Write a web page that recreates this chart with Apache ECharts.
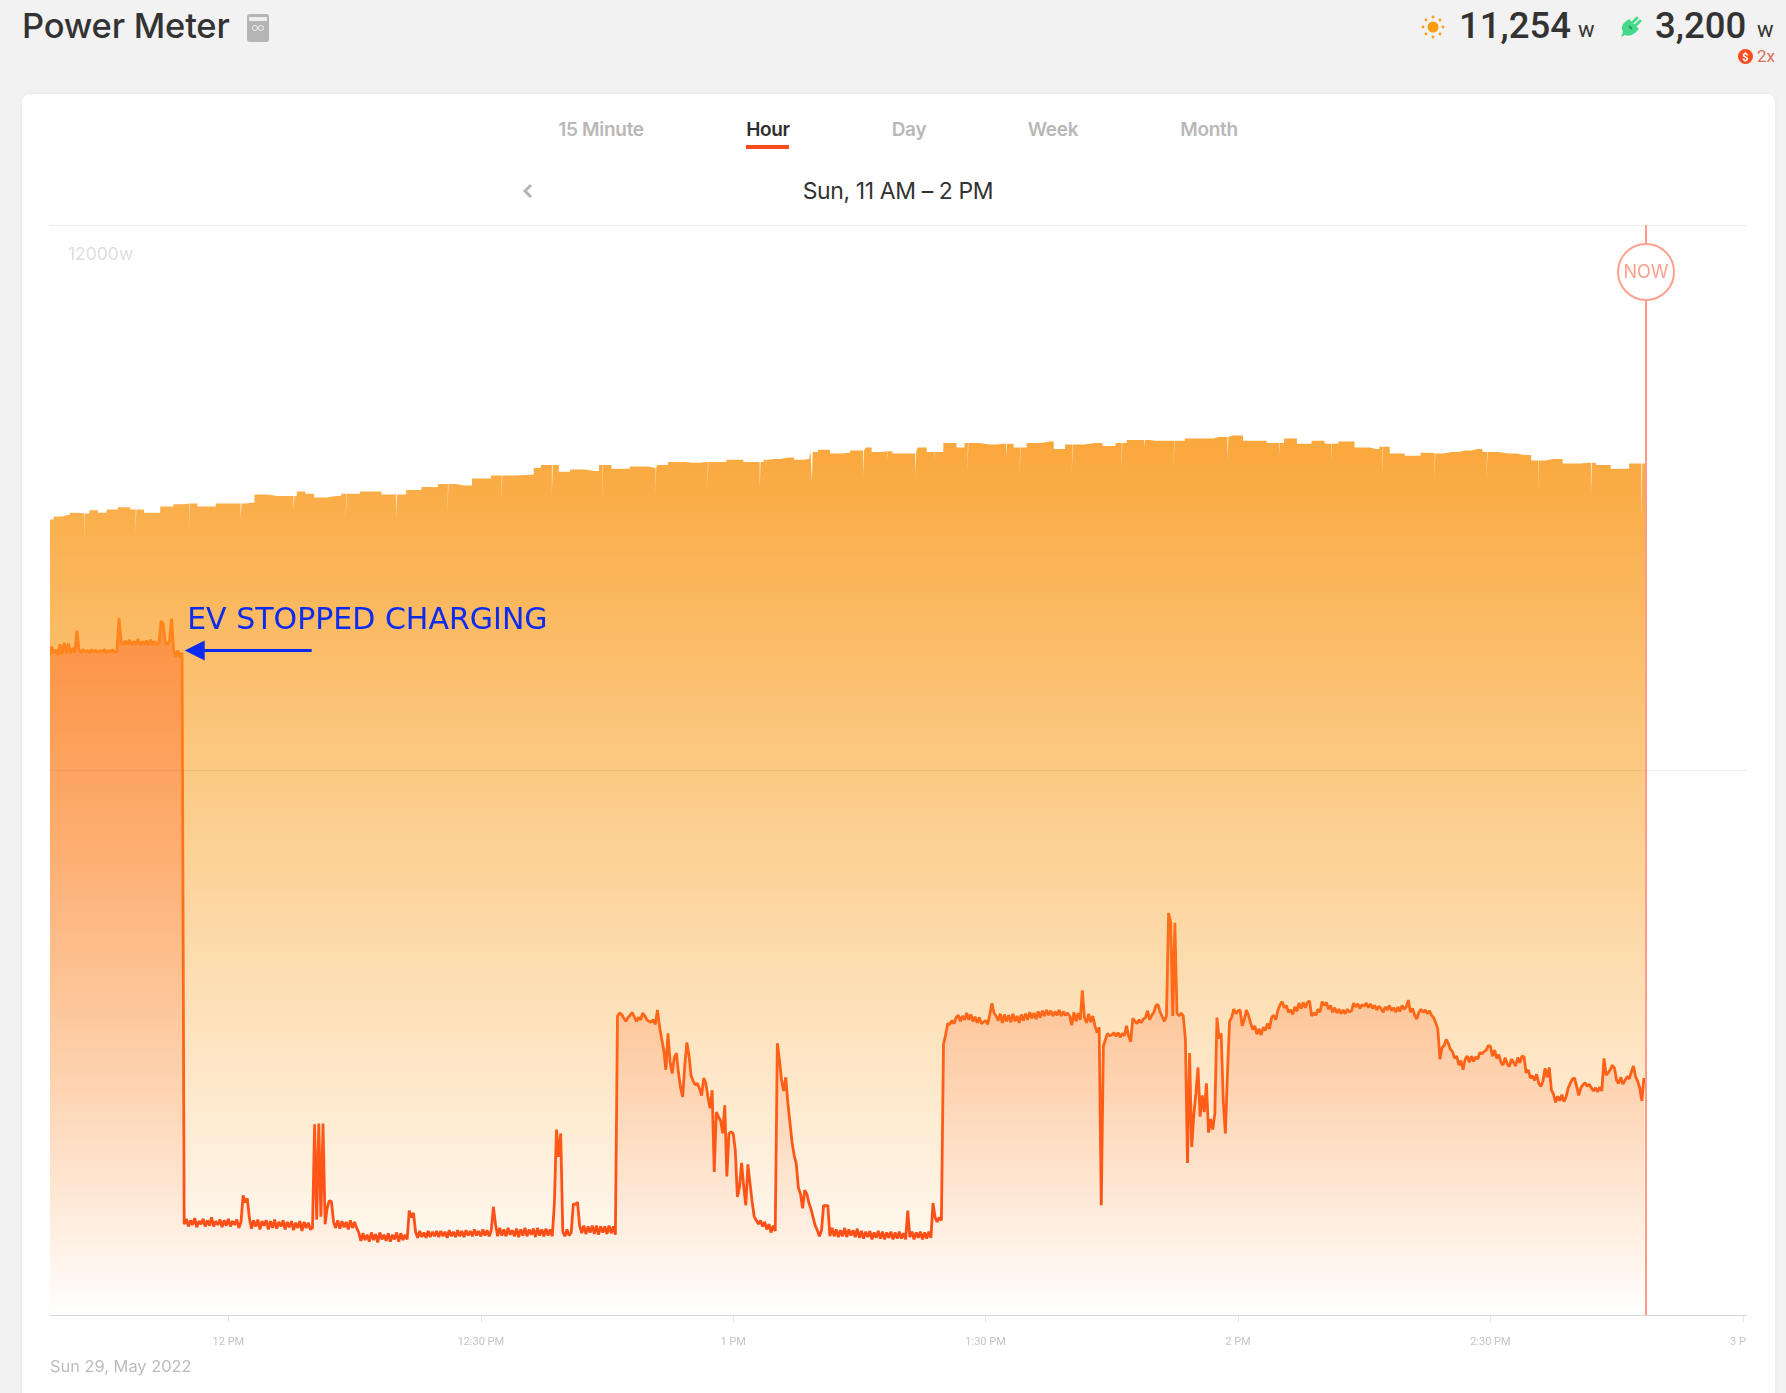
<!DOCTYPE html>
<html>
<head>
<meta charset="utf-8">
<title>Power Meter</title>
<script src="https://cdn.jsdelivr.net/npm/echarts@6/dist/echarts.min.js"></script>
<style>
	html, body { margin: 0; padding: 0; background: #f2f2f2; width: 1786px; height: 1393px; overflow: hidden; font-family: Inter, sans-serif; color: #333; }
	.abs { position: absolute; white-space: nowrap; }
	#card { position: absolute; left: 22px; top: 94px; width: 1753px; height: 1320px; background: #fff; border-radius: 8px; box-shadow: 0 0 4px rgba(0,0,0,.05); }
	#dom { position: absolute; left: 50px; top: 200px; width: 1697px; height: 1193px; }
	.tab { top: 118px; font-size: 19px; font-weight: 600; color: #b8b8b8; transform: translateX(-50%); letter-spacing: -0.3px; }
</style>
</head>
<body>
	<div id="card"></div>
	<div class="abs" style="left:22px;top:5px;font-size:34.5px;font-weight:500;letter-spacing:-0.2px;">Power Meter</div>
	<svg class="abs" style="left:247px;top:14px" width="22" height="28" viewBox="0 0 22 28">
		<rect width="22" height="28" rx="3" fill="#b5b5b5"/>
		<rect x="2" y="3" width="18" height="4" rx="1" fill="#eee"/>
		<circle cx="8" cy="14" r="2.5" fill="none" stroke="#eee" stroke-width="1"/>
		<circle cx="14" cy="14" r="2.5" fill="none" stroke="#eee" stroke-width="1"/>
	</svg>

	<svg class="abs" style="left:1421px;top:15px" width="24" height="24" viewBox="-12 -12 24 24">
		<circle r="5.5" fill="#fb9d0e"/>
		<g fill="#fb9d0e">
			<circle cx="0" cy="-10" r="1.4"/><circle cx="0" cy="10" r="1.4"/><circle cx="-10" cy="0" r="1.4"/><circle cx="10" cy="0" r="1.4"/>
			<circle cx="-7" cy="-7" r="1.4"/><circle cx="7" cy="-7" r="1.4"/><circle cx="-7" cy="7" r="1.4"/><circle cx="7" cy="7" r="1.4"/>
		</g>
	</svg>
	<div class="abs" style="left:1459px;top:4px;font-family:Roboto;font-size:36.5px;font-weight:500;">11,254</div>
	<div class="abs" style="left:1578px;top:17px;font-family:Roboto;font-size:22px;">w</div>
	<svg class="abs" style="left:1620px;top:16px" width="22" height="22" viewBox="0 0 22 22">
		<path d="M1 21 L3 16 Q0 10 5 6 L9 3 L19 13 L15 17 Q10 21 5 19 Z" fill="#46d98a"/>
		<path d="M13 6 L17 2 M16 9 L20 5" stroke="#46d98a" stroke-width="3" stroke-linecap="round"/>
		<path d="M9 10 L12 13" stroke="#2b9a63" stroke-width="2"/>
	</svg>
	<div class="abs" style="left:1655px;top:4px;font-family:Roboto;font-size:36.5px;font-weight:500;">3,200</div>
	<div class="abs" style="left:1757px;top:17px;font-family:Roboto;font-size:22px;">w</div>
	<svg class="abs" style="left:1738px;top:49px" width="15" height="15" viewBox="0 0 15 15">
		<circle cx="7.5" cy="7.5" r="7.5" fill="#fb4b1c"/>
		<text x="7.5" y="11.5" font-size="11" font-weight="700" text-anchor="middle" fill="#fff" font-family="Roboto">$</text>
	</svg>
	<div class="abs" style="left:1757px;top:46px;font-family:Roboto;font-size:17px;color:#e0705a;">2x</div>

	<div class="abs tab" style="left:601px">15 Minute</div>
	<div class="abs tab" style="left:768px;color:#2e2e2e">Hour</div>
	<div class="abs tab" style="left:909px">Day</div>
	<div class="abs tab" style="left:1053px">Week</div>
	<div class="abs tab" style="left:1209px">Month</div>
	<div class="abs" style="left:746px;top:145px;width:43px;height:4px;background:#fb4b1c"></div>
	<svg class="abs" style="left:522px;top:183px" width="12" height="16" viewBox="0 0 12 16">
		<polyline points="9,2 3,8 9,14" fill="none" stroke="#b5b5b5" stroke-width="3"/>
	</svg>
	<div class="abs" style="left:898px;top:177px;transform:translateX(-50%);font-size:23px;letter-spacing:-0.4px;">Sun, 11 AM – 2 PM</div>

	<div id="dom"></div>
	<div class="abs" style="left:68px;top:243px;font-size:17.5px;color:#dedede;">12000w</div>
	<div class="abs" style="left:50px;top:1356px;font-size:16.4px;color:#bcbcbc;">Sun 29, May 2022</div>

<script>
	// time is minutes after 12 PM, power is watts
	var axisMin = -21.2
	var axisMax = 180.5
	var powerMax = 14400
	var nowMinute = 168.5
	var nowBadgeWatts = 13780

	var tickMinutes = [0, 30, 60, 90, 120, 150, 180]
	var tickLabels = ['12 PM', '12:30 PM', '1 PM', '1:30 PM', '2 PM', '2:30 PM', '3 PM']

	var solarTimes = [
		-21.2, -20.3, -19.2, -18.5, -17.1, -16, -15, -14, -12.3, -11, -9.1, -7.1, -6, -4.6, -2.8, -0.2,
		2.6, 3.6, 5.8, 8.4, 9.9, 10.5, 12.8, 14, 17.2, 19.2, 22.2, 23.7, 26.1, 28, 29.9, 32.5,
		35.8, 36.8, 37.5, 40, 41.2, 43.6, 44.5, 46.5, 48.9, 50.8, 51.1, 53.4, 55.1, 57, 58.4, 60,
		62.4, 64, 64.7, 66.5, 68, 69, 69.4, 70.7, 72.3, 73.6, 74.2, 76, 76.9, 78.3, 79.5, 80.6, 81.8, 82.1,
		83.9, 86, 87.1, 87.9, 90.5, 92.1, 94.1, 95.6, 97.6, 98.6, 100.3, 103.1, 104.7, 106.2, 107.3, 110.1,
		112.4, 114.9, 116.4, 117.7, 119.3, 121.9, 124.9, 126, 128, 129.5, 131.1, 132.7, 135, 136.4, 137.2, 138.8,
		140.8, 142.6, 143.4, 145.4, 147, 148.5, 149.6, 152.2, 154, 155.7, 157.4, 159.8, 161.6, 163, 165.6, 167.4, 168.4
	]
	var solarWatts = [
		10510, 10550, 10570, 10600, 10590, 10630, 10600, 10640, 10670, 10640, 10600, 10680, 10710, 10720, 10680, 10720,
		10730, 10840, 10820, 10880, 10850, 10800, 10820, 10850, 10880, 10840, 10900, 10940, 10980, 10960, 11050, 11090,
		11100, 11190, 11230, 11140, 11170, 11150, 11230, 11180, 11210, 11190, 11230, 11270, 11260, 11270, 11270, 11300,
		11270, 11300, 11310, 11330, 11300, 11310, 11400, 11430, 11380, 11390, 11420, 11460, 11400, 11410, 11380, 11380, 11420, 11460,
		11400, 11520, 11460, 11520, 11500, 11510, 11460, 11520, 11540, 11440, 11500, 11520, 11480, 11520, 11560, 11550,
		11550, 11580, 11580, 11600, 11620, 11550, 11520, 11580, 11510, 11550, 11510, 11540, 11460, 11440, 11470, 11380,
		11350, 11390, 11380, 11400, 11420, 11440, 11400, 11380, 11360, 11290, 11310, 11250, 11260, 11230, 11180, 11250, 11250
	]
	// the short dips in the solar curve
	var dipTimes = [
		-17.1, -11, -4.6, 1.5, 7.8, 14, 20, 26.1, 32.5, 38.5, 44.5, 50.8, 57, 63.2, 64, 69.4, 75.5, 78.3,
		81.7, 83.9, 87.9, 92.5, 94.1, 100.3, 106.2, 108.9, 112.4, 118.8, 124.9, 131.1, 137.2, 143.4, 149.6, 155.7, 162, 168
	]
	var dipWatts = [
		10260, 10320, 10400, 10520, 10650, 10510, 10520, 10610, 10750, 10840, 10810, 10860, 10920, 10930, 11250, 11010, 11090, 11270,
		11090, 11310, 11150, 11340, 11130, 11140, 11180, 11470, 11230, 11290, 11330, 11290, 11100, 11060, 11040, 10920, 10850, 10520
	]

	var usageStart = -21.25
	var usageStep = 0.25
	var usageWatts = [
		// 11:38:45
		8710,8830,8740,8790,8720,
		// 11:40
		8860,8730,8880,8740,8870,8740,8810,8750,9040,8790,8750,8790,8760,8780,8750,8790,8760,8780,8750,8780,
		// 11:45
		8760,8790,8750,8780,8760,8790,8750,8770,9210,8900,8850,8910,8860,8920,8850,8900,8860,8930,8850,8900,
		// 11:50
		8860,8910,8850,8920,8860,8900,8850,8880,9170,9130,8890,8860,8900,9200,8780,8700,8780,8690,8750,1200,
		// 11:55
		1270,1170,1250,1190,1280,1160,1240,1200,1270,1170,1250,1180,1290,1170,1240,1190,1260,1160,1250,1180,
		// 12:00
		1270,1170,1240,1190,1260,1150,1230,1580,1490,1540,1280,1140,1250,1170,1260,1130,1240,1180,1250,1130,
		// 12:05
		1240,1150,1260,1140,1230,1170,1250,1130,1230,1160,1240,1120,1220,1150,1240,1110,1230,1150,1220,1130,
		// 12:10
		1150,2520,1260,2530,1300,2530,1200,1420,1510,1500,1230,1150,1250,1140,1240,1160,1230,1130,1250,1150,
		// 12:15
		1230,1150,1090,980,1080,990,1060,970,1090,990,1070,960,1090,1000,1060,980,1080,970,1060,1000,
		// 12:20
		1090,970,1080,990,1060,1000,1380,1290,1350,1100,1020,1110,1030,1090,1020,1110,1030,1100,1040,1110,
		// 12:25
		1030,1110,1040,1100,1020,1120,1040,1100,1030,1120,1040,1110,1030,1120,1050,1110,1040,1130,1050,1110,
		// 12:30
		1040,1130,1050,1120,1040,1120,1430,1200,1040,1150,1050,1130,1040,1150,1060,1120,1040,1140,1030,1130,
		// 12:35
		1050,1150,1040,1130,1060,1140,1030,1150,1050,1130,1040,1140,1050,1130,1040,1480,2450,2090,2400,1100,
		// 12:40
		1040,1130,1050,1090,1470,1460,1490,1180,1080,1180,1070,1170,1090,1180,1070,1180,1060,1170,1090,1170,
		// 12:45
		1070,1180,1080,1170,1060,3950,3990,3970,3920,3880,3930,3960,4000,3940,3880,3930,3900,3990,3950,3900,
		// 12:50
		3880,3870,3900,3840,4030,3810,3650,3500,3240,3720,3350,3190,3400,3460,3200,3000,2880,3300,3600,3430,
		// 12:55
		3160,3090,3040,3060,2990,2900,3130,3060,2880,2730,2970,1890,2680,2620,2570,2400,2770,1830,2400,2420,
		// 1:00
		2400,2180,1560,1690,2010,1700,1450,1990,1740,1500,1300,1250,1200,1250,1170,1230,1130,1200,1090,1180,
		// 1:05
		1110,3590,3370,3100,2960,3140,2800,2540,2280,2110,2000,1680,1600,1410,1650,1600,1480,1400,1290,1180,
		// 1:10
		1120,1040,1120,1450,1440,1450,1040,1150,1040,1130,1030,1120,1040,1150,1030,1130,1050,1120,1030,1140,
		// 1:15
		1020,1110,1010,1100,1030,1110,1000,1090,1020,1110,1010,1100,1000,1090,1020,1100,1000,1090,1010,1100,
		// 1:20
		1010,1080,1000,1380,1030,1100,1000,1090,1020,1100,1000,1090,1010,1100,1020,1480,1290,1230,1290,1250,
		// 1:25
		3580,3700,3850,3840,3890,3850,3930,3960,3880,3950,3900,3990,3900,3970,3880,3940,3860,3930,3850,3870,
		// 1:30
		3890,3840,3970,4120,3990,3950,3890,3980,3860,3970,3880,3960,3870,3980,3880,3950,3860,3970,3890,3980,
		// 1:35
		3900,4000,3920,3990,3910,4010,3930,4020,3950,4030,3960,4020,3950,4010,3960,4030,3950,4010,3960,3990,
		// 1:40
		3950,3830,4000,3880,3990,3900,4290,3930,3860,3980,3870,3950,3820,3730,3800,1450,3550,3640,3720,3690,
		// 1:45
		3700,3730,3680,3730,3670,3720,3690,3820,3690,3610,3920,3880,3850,3900,3860,3910,3930,4020,3900,3960,
		// 1:50
		4000,4090,4100,4000,3940,3880,3950,5310,5190,3950,5180,3990,3950,3990,3950,3640,2010,3460,2220,2650,
		// 1:55
		2930,3270,2620,2900,2680,3060,2410,2590,2450,2660,3930,3650,3720,2830,2400,3190,3880,3930,4040,3980,
		// 2:00
		4020,4030,3820,3900,4030,3960,3860,3770,3820,3710,3780,3700,3800,3760,3850,3780,3930,3960,3900,4030,
		// 2:05
		4100,4140,4060,4090,4000,4030,3970,4070,4010,4120,4050,4130,4060,4130,4150,3950,3990,3960,4040,4000,
		// 2:10
		4140,4090,4130,4040,4090,4000,4060,3990,4040,3980,4030,3980,4040,4000,4020,4120,4070,4110,4050,4100,
		// 2:15
		4080,4120,4060,4110,4050,4090,4030,4080,4050,4000,4070,4030,4090,4020,4060,4000,4070,4010,4090,4040,
		// 2:20
		4070,4160,4000,4050,3960,3910,4000,4040,4000,4030,3980,4020,3960,3930,3860,3780,3380,3530,3560,3640,
		// 2:25
		3590,3510,3480,3390,3420,3300,3360,3240,3380,3420,3340,3420,3350,3410,3380,3470,3450,3480,3500,3560,
		// 2:30
		3550,3420,3500,3390,3440,3340,3300,3400,3320,3280,3380,3340,3290,3400,3330,3420,3410,3200,3240,3130,
		// 2:35
		3160,3100,3180,3060,3020,3090,3260,3140,3270,2970,2920,2810,2890,2830,2910,2820,2880,3000,3060,3120,
		// 2:40
		3130,3020,2900,3000,3040,3070,3020,3050,3000,2960,3000,2950,3010,2960,3390,3170,3200,3240,3300,3260,
		// 2:45
		3100,3060,3140,3050,3100,3150,3120,3210,3290,3150,3090,3000,2830,3130
	]

	var noteText = 'EV STOPPED CHARGING'
	var noteMinute = -4.9
	var noteWatts = 9160
	var arrowTipMinute = -4
	var arrowTailMinute = 9.9
	var arrowWatts = 8780

	// the dips are put into the solar curve as narrow notches
	var solarData = []
	var dipIndex = 0
	for (var i = 0; i < solarTimes.length; i++) {
		while (dipIndex < dipTimes.length && dipTimes[dipIndex] < solarTimes[i]) {
			var edge = solarWatts[Math.max(i - 1, 0)]
			var dipAt = dipTimes[dipIndex]
			solarData.push([dipAt - 0.05, edge], [dipAt - 0.04, dipWatts[dipIndex]], [dipAt + 0.05, dipWatts[dipIndex]], [dipAt + 0.06, edge])
			dipIndex++
		}
		solarData.push([solarTimes[i], solarWatts[i]])
	}
	var usageData = usageWatts.map(function (w, n) {
		return [usageStart + n * usageStep, w]
	})

	var chart = echarts.init(document.getElementById('dom'))
	chart.setOption({
		animation: false,
		grid: { left: 0, right: 0, top: 25, bottom: 78, outerBoundsMode: 'none' },
		xAxis: {
			type: 'value',
			min: axisMin,
			max: axisMax,
			splitLine: { show: false },
			axisLine: { show: true, lineStyle: { color: '#e6e6e6', width: 1 } },
			axisTick: { show: true, length: 8, customValues: tickMinutes, lineStyle: { color: '#e6e6e6' } },
			axisLabel: {
				customValues: tickMinutes,
				margin: 22,
				color: '#c4c4c4',
				fontFamily: 'Roboto',
				fontSize: 11,
				formatter: function (v) {
					return tickLabels[tickMinutes.indexOf(v)]
				}
			}
		},
		yAxis: {
			type: 'value',
			min: 0,
			max: powerMax,
			interval: powerMax / 2,
			z: 3,
			axisLine: { show: false },
			axisTick: { show: false },
			axisLabel: { show: false },
			splitLine: { lineStyle: { color: 'rgba(120,100,80,0.12)', width: 1 } }
		},
		series: [{
			name: 'Solar',
			type: 'line',
			step: 'middle',
			z: 1,
			data: solarData,
			showSymbol: false,
			lineStyle: { width: 0 },
			areaStyle: {
				opacity: 1,
				color: new echarts.graphic.LinearGradient(0, 0, 0, 1, [
					{ offset: 0, color: '#faa73b' },
					{ offset: 0.4, color: '#fccb87' },
					{ offset: 1, color: '#ffffff' }
				])
			}
		}, {
			name: 'Usage',
			type: 'line',
			z: 2,
			data: usageData,
			showSymbol: false,
			lineStyle: {
				width: 2.8,
				join: 'bevel',
				color: new echarts.graphic.LinearGradient(0, 0, 0, 1, [
					{ offset: 0, color: '#ff861c' },
					{ offset: 0.6, color: '#ff6a18' },
					{ offset: 1, color: '#fe4d17' }
				])
			},
			areaStyle: {
				opacity: 1,
				color: new echarts.graphic.LinearGradient(0, 0, 0, 1, [
					{ offset: 0, color: 'rgba(254,90,23,0.42)' },
					{ offset: 1, color: 'rgba(254,79,23,0)' }
				])
			},
			markLine: {
				silent: true,
				animation: false,
				label: { show: false },
				data: [
					[{ coord: [nowMinute, 0], symbol: 'none', lineStyle: { color: '#fe9a85', width: 2, type: 'solid' } },
						{ coord: [nowMinute, powerMax], symbol: 'none' }],
					[{ coord: [arrowTailMinute, arrowWatts], symbol: 'none', lineStyle: { color: '#0b2cf0', width: 3, type: 'solid' } },
						{ coord: [arrowTipMinute, arrowWatts], symbol: 'triangle', symbolSize: 20 }]
				]
			},
			markPoint: {
				silent: true,
				animation: false,
				data: [{
					coord: [nowMinute, nowBadgeWatts],
					symbol: 'circle',
					symbolSize: 56,
					itemStyle: { color: '#fff', borderColor: '#fea08e', borderWidth: 2 },
					label: { show: true, formatter: 'NOW', color: '#fda08d', fontFamily: 'Inter', fontSize: 18, offset: [0, 1] }
				}, {
					coord: [noteMinute, noteWatts],
					symbol: 'circle',
					symbolSize: 0,
					label: { show: true, position: 'right', distance: 0, formatter: noteText, color: '#0b2cf0', fontFamily: 'DejaVu Sans', fontSize: 30 }
				}]
			}
		}]
	})
</script>
</body>
</html>
